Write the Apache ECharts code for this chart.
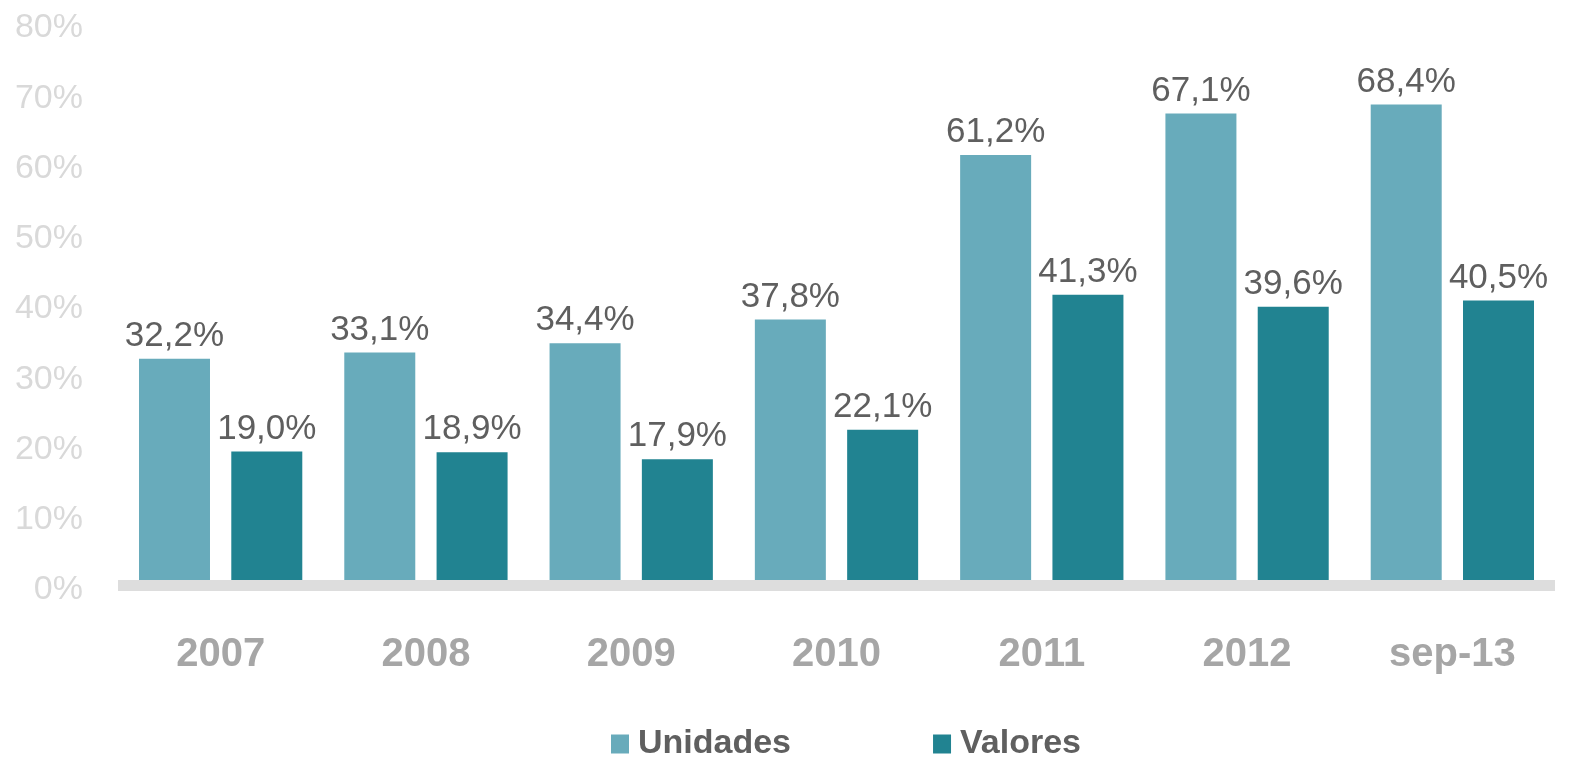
<!DOCTYPE html>
<html>
<head>
<meta charset="utf-8">
<script src="https://cdn.jsdelivr.net/npm/echarts@6/dist/echarts.min.js"></script>
<style>html,body{margin:0;padding:0;background:#fff}#c{width:1574px;height:762px}</style>
</head>
<body>
<div id="c"></div>
<script>
const categories = ['2007', '2008', '2009', '2010', '2011', '2012', 'sep-13'];
const unidades = [32.2, 33.1, 34.4, 37.8, 61.2, 67.1, 68.4];
const valores = [19.0, 18.9, 17.9, 22.1, 41.3, 39.6, 40.5];
const yTicks = [0, 10, 20, 30, 40, 50, 60, 70, 80];

const fmt = p => p.value.toFixed(1).replace('.', ',') + '%';
const FONT = '"Liberation Sans", Arial, sans-serif';
const labelStyle = { show: true, position: 'top', distance: 5, formatter: fmt, color: '#5F5F5F', fontSize: 35, fontFamily: FONT };

const chart = echarts.init(document.getElementById('c'));
chart.setOption({
  animation: false,
  grid: { left: 118, right: 19, top: 23, bottom: 177, containLabel: false },
  legend: {
    left: 606, top: 722, itemWidth: 18, itemHeight: 19, itemGap: 142,
    icon: 'rect',
    textStyle: { color: '#5F5F5F', fontSize: 34, fontWeight: 'bold', fontFamily: FONT, padding: [0, 0, 0, 4] },
    data: ['Unidades', 'Valores']
  },
  xAxis: {
    type: 'category', data: categories, z: 10,
    axisLine: { show: true, lineStyle: { color: '#DDDDDD', width: 11, cap: 'butt' } },
    axisTick: { show: false },
    axisLabel: { color: '#A6A6A6', fontSize: 40, fontWeight: 'bold', fontFamily: FONT, margin: 50 }
  },
  yAxis: {
    type: 'value', min: yTicks[0], max: yTicks[yTicks.length - 1], interval: 10,
    splitLine: { show: false }, axisLine: { show: false }, axisTick: { show: false },
    axisLabel: {
      color: '#D9D9D9', fontSize: 34, fontFamily: FONT, margin: 35,
      formatter: v => '{a|' + v + '%}',
      rich: { a: { color: '#D9D9D9', fontSize: 34, fontFamily: FONT, padding: [10, 0, 0, 0] } }
    }
  },
  series: [
    { name: 'Unidades', type: 'bar', data: unidades, barWidth: 71, barGap: '30%', itemStyle: { color: '#68ABBB' }, label: labelStyle },
    { name: 'Valores', type: 'bar', data: valores, barWidth: 71, barGap: '30%', itemStyle: { color: '#218391' }, label: labelStyle }
  ]
});
</script>
</body>
</html>
